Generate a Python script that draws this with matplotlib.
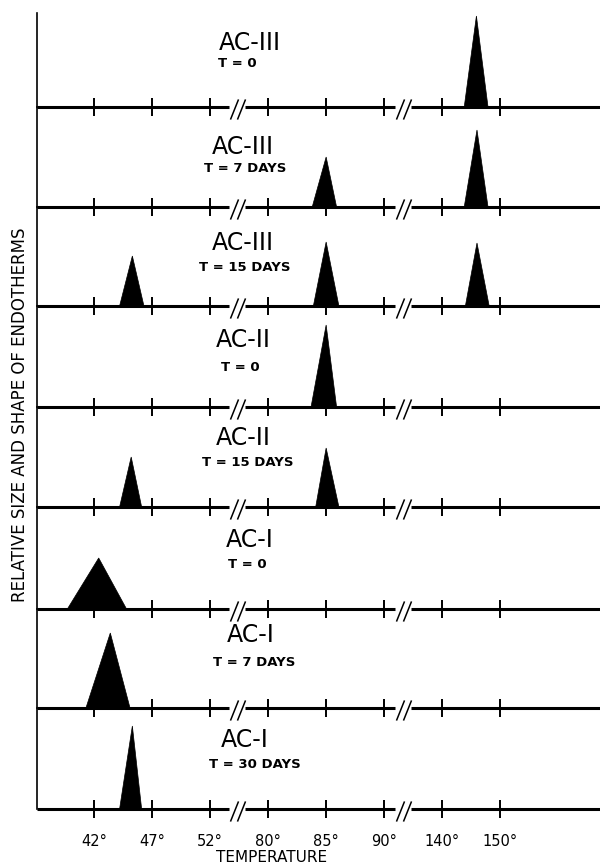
import numpy as np
import matplotlib
matplotlib.use("Agg")
import matplotlib.pyplot as plt

# temperature axis (broken into three ranges)
temp_ticks = [42, 47, 52, 80, 85, 90, 140, 150]
tick_labels = ["42°", "47°", "52°", "80°", "85°", "90°", "140°", "150°"]

# panels, top to bottom
names = ["AC-III", "AC-III", "AC-III", "AC-II", "AC-II", "AC-I", "AC-I", "AC-I"]
times = ["T = 0", "T = 7 DAYS", "T = 15 DAYS", "T = 0", "T = 15 DAYS",
         "T = 0", "T = 7 DAYS", "T = 30 DAYS"]

# endotherm triangles: left foot, apex, right foot (deg) and relative height
peak_left = [[143.8], [83.8, 143.8], [44.2, 83.9, 144.0], [83.7],
             [44.2, 84.1], [39.7], [41.3], [44.2]]
peak_apex = [[145.9], [85.0, 146.0], [45.3, 85.0, 146.0], [85.0],
             [45.2, 85.0], [42.4], [43.4], [45.3]]
peak_right = [[147.9], [85.9, 147.9], [46.3, 86.1, 148.1], [85.9],
              [46.1, 86.1], [44.8], [45.1], [46.1]]
peak_height = [[91], [50, 77], [50, 64, 63], [82],
               [50, 59], [51], [75], [83]]

# piecewise mapping for the broken axis
deg_knots = [0, 42, 52, 80, 90, 140, 150, 400]
idx_knots = [-8.4, 0, 2, 3, 5, 6, 7, 32]


def fwd(x):
    return np.interp(x, deg_knots, idx_knots)


def inv(x):
    return np.interp(x, idx_knots, deg_knots)


panel_h = [94, 100, 99, 101, 100, 102, 99, 101]
label_pos = [(0.378, 64, 0.355, 44), (0.366, 60, 0.369, 39), (0.366, 63, 0.368, 39),
             (0.366, 67, 0.361, 40), (0.366, 69, 0.375, 45), (0.377, 69, 0.373, 44),
             (0.380, 73, 0.385, 45), (0.369, 69, 0.387, 44)]

fig, axes = plt.subplots(8, 1, sharex=True, figsize=(6, 8.67), dpi=100,
                         gridspec_kw=dict(height_ratios=panel_h, hspace=0))
fig.subplots_adjust(left=0.062, right=1.0, top=0.985, bottom=0.0669)

x_lo, x_hi = -0.98, 8.72
breaks = [2.47, 5.33]
gap = 0.14
segs = [(x_lo, breaks[0] - gap), (breaks[0] + gap, breaks[1] - gap), (breaks[1] + gap, x_hi)]
slash = [(-0.2, -0.5), (0.2, 0.5)]

for i, ax in enumerate(axes):
    ax.patch.set_visible(False)
    ax.set_xscale("function", functions=(fwd, inv))
    ax.set_xlim(inv(x_lo), inv(x_hi))
    ax.set_ylim(0, panel_h[i])
    for s in ["top", "right", "bottom"]:
        ax.spines[s].set_visible(False)
    ax.spines["left"].set_linewidth(1.2)
    ax.set_yticks([])

    # baseline with gaps at the breaks
    for a, b in segs:
        ax.plot(inv(np.array([a, b])), [0, 0], color="k", lw=2.2,
                solid_capstyle="butt", clip_on=False)
    ax.plot(temp_ticks, [0] * len(temp_ticks), ls="none", marker="|",
            ms=13, mew=1.4, color="k", clip_on=False)
    for b in breaks:
        ax.plot(inv(np.array([b - 0.06, b + 0.06])), [-2, -2], ls="none",
                marker=slash, ms=14.5, mew=1.1, color="k", clip_on=False)

    for l, a, r, h in zip(peak_left[i], peak_apex[i], peak_right[i], peak_height[i]):
        ax.fill([l, a, r], [0, h, 0], color="k", lw=0.5, clip_on=False, zorder=3)

    nx, ny, tx, ty = label_pos[i]
    tr = ax.get_yaxis_transform()
    ax.text(nx, ny, names[i], transform=tr, ha="center", va="center", fontsize=17)
    ax.text(tx, ty, times[i], transform=tr, ha="center", va="center",
            fontsize=9.5, fontweight="bold")

    if i < 7:
        ax.tick_params(axis="x", which="both", bottom=False, labelbottom=False)

bot = axes[-1]
bot.set_xticks(temp_ticks, tick_labels)
bot.xaxis.set_minor_locator(matplotlib.ticker.NullLocator())
bot.tick_params(axis="x", length=0, pad=18, labelsize=10.5)

fig.text(0.453, 1 - 862 / 867, "TEMPERATURE", ha="center", va="baseline", fontsize=11)
fig.text(0.033, 0.522, "RELATIVE SIZE AND SHAPE OF ENDOTHERMS", rotation=90,
         ha="center", va="center", fontsize=12)

fig.savefig("out.png", dpi=100, facecolor="white")
